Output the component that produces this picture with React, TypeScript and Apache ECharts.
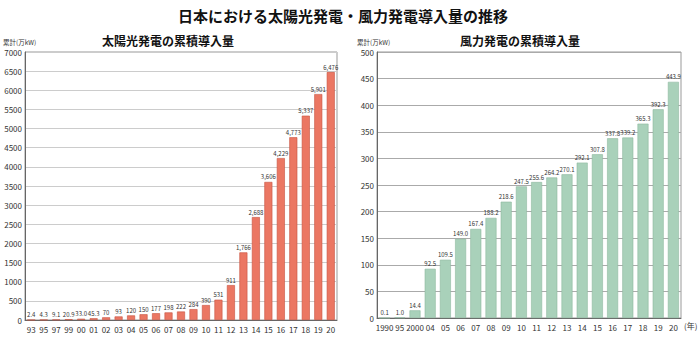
import React, { useEffect, useRef } from "react";
import * as echarts from "echarts";

const solarYears = ["93","95","97","99","00","01","02","03","04","05","06","07","08","09","10","11","12","13","14","15","16","17","18","19","20"];
const solarValues = [2.4,4.3,9.1,20.9,33.0,45.3,70,93,120,150,177,198,222,284,390,531,911,1766,2688,3606,4229,4773,5337,5901,6476];
const windYears = ["1990","95","2000","04","05","06","07","08","09","10","11","12","13","14","15","16","17","18","19","20"];
const windValues = [0.1,1.0,14.4,92.5,109.5,149.0,167.4,188.2,218.6,247.5,255.6,264.2,270.1,292.1,307.8,337.8,339.2,365.3,392.3,443.9];

const FONT = "'Noto Sans CJK JP', 'Noto Sans', sans-serif";

export default function App() {
  const ref = useRef<HTMLDivElement>(null);
  useEffect(() => {
    const chart = echarts.init(ref.current!, null, { renderer: "svg" });
    const axisLabel = { fontSize: 8, color: "#333", fontFamily: FONT };
    chart.setOption({
      animation: false,
      backgroundColor: "#fff",
      textStyle: { fontFamily: FONT },
      grid: [
        { left: 25, top: 52, width: 312, height: 268, show: true, borderColor: "#999", borderWidth: 1 },
        { left: 377, top: 52, width: 304, height: 266, show: true, borderColor: "#999", borderWidth: 1 },
      ],
      xAxis: [
        {
          type: "category", gridIndex: 0, data: solarYears,
          axisLine: { lineStyle: { color: "#666" } }, axisTick: { show: false },
          axisLabel: { ...axisLabel, margin: 5, interval: 0 },
        },
        {
          type: "category", gridIndex: 1, data: windYears,
          axisLine: { lineStyle: { color: "#666" } }, axisTick: { show: false },
          axisLabel: { ...axisLabel, margin: 5, interval: 0 },
        },
      ],
      yAxis: [
        {
          type: "value", gridIndex: 0, min: 0, max: 7000, interval: 500,
          axisLine: { show: true, lineStyle: { color: "#666" } }, axisTick: { show: false },
          axisLabel: { ...axisLabel, margin: 3, formatter: (v: number) => String(v) },
          splitLine: { lineStyle: { color: "#ccc", width: 1 } },
        },
        {
          type: "value", gridIndex: 1, min: 0, max: 500, interval: 50,
          axisLine: { show: true, lineStyle: { color: "#666" } }, axisTick: { show: false },
          axisLabel: { ...axisLabel, margin: 3, formatter: (v: number) => String(v) },
          splitLine: { lineStyle: { color: "#aaa", width: 1 } },
        },
      ],
      series: [
        {
          type: "bar", xAxisIndex: 0, yAxisIndex: 0, data: solarValues, barWidth: 8,
          itemStyle: { color: "#eb7763", borderColor: "#c8523f", borderWidth: 0.6 },
          label: {
            show: true, position: "top", distance: 2, fontSize: 6, color: "#333", fontFamily: FONT,
            formatter: (p: any) => (p.value < 50 ? p.value.toFixed(1) : p.value.toLocaleString("en-US")),
          },
        },
        {
          type: "bar", xAxisIndex: 1, yAxisIndex: 1, data: windValues, barWidth: 11,
          itemStyle: { color: "#a9d1ba", borderColor: "#8fb8a0", borderWidth: 0.6 },
          label: {
            show: true, position: "top", distance: 2, fontSize: 6, color: "#333", fontFamily: FONT,
            formatter: (p: any) => p.value.toFixed(1),
          },
        },
      ],
      graphic: [
        { type: "text", x: 343, y: 15, style: { text: "日本における太陽光発電・風力発電導入量の推移", font: `bold 15px ${FONT}`, fill: "#111", align: "center", verticalAlign: "middle" } },
        { type: "text", x: 168, y: 40, style: { text: "太陽光発電の累積導入量", font: `bold 12px ${FONT}`, fill: "#111", align: "center", verticalAlign: "middle" } },
        { type: "text", x: 520, y: 40, style: { text: "風力発電の累積導入量", font: `bold 12px ${FONT}`, fill: "#111", align: "center", verticalAlign: "middle" } },
        { type: "text", x: 3, y: 42, style: { text: "累計(万kW)", font: `6.5px ${FONT}`, fill: "#333", align: "left", verticalAlign: "middle" } },
        { type: "text", x: 357, y: 42, style: { text: "累計(万kW)", font: `6.5px ${FONT}`, fill: "#333", align: "left", verticalAlign: "middle" } },
        { type: "text", x: 684, y: 325, style: { text: "(年)", font: `8px ${FONT}`, fill: "#333", align: "left", verticalAlign: "middle" } },
      ],
    });
    return () => chart.dispose();
  }, []);
  return <div ref={ref} style={{ width: 700, height: 339, position: "fixed", left: 0, top: 0 }} />;
}
